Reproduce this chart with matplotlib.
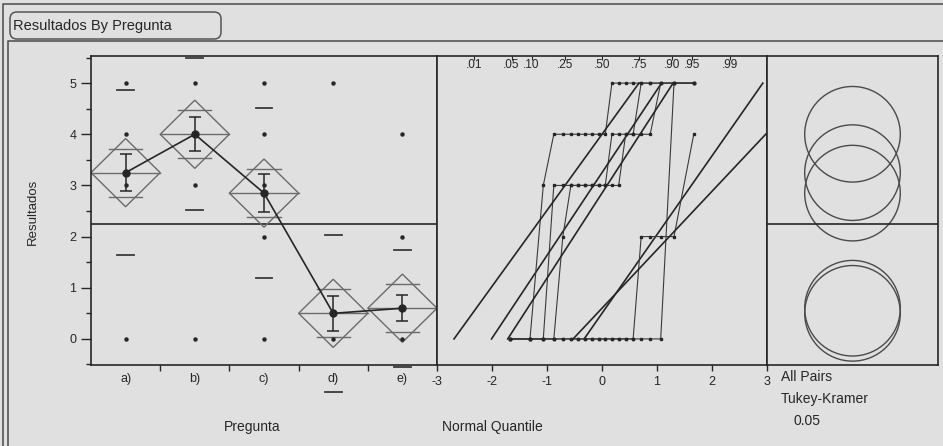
import math
import numpy as np
import matplotlib
matplotlib.use("Agg")
import matplotlib.pyplot as plt
from matplotlib.patches import Polygon, Circle, FancyBboxPatch
from matplotlib.lines import Line2D
from matplotlib.ticker import FixedLocator

plt.rcParams['font.family'] = ['Liberation Sans', 'DejaVu Sans']
plt.rcParams['axes.unicode_minus'] = False

'''Datos: respuestas (0-5) de 20 alumnos por pregunta, leidas del grafico'''
preguntas = ['a)', 'b)', 'c)', 'd)', 'e)']
niveles = [0, 1, 2, 3, 4, 5]
conteos = [[3, 0, 0, 8, 4, 5],
           [2, 0, 0, 1, 8, 9],
           [4, 0, 1, 8, 4, 3],
           [18, 0, 0, 0, 0, 2],
           [15, 0, 4, 0, 1, 0]]
prob_ticks = [0.01, 0.05, 0.10, 0.25, 0.50, 0.75, 0.90, 0.95, 0.99]
prob_labels = ['.01', '.05', '.10', '.25', '.50', '.75', '.90', '.95', '.99']
t_975 = 1.985      # t(0.975, df=95)
q_tukey = 3.936    # rango studentizado q(0.05; 5, 95)
alfa = "0.05"

W, H = 943, 446
BG = '#dfe0df'
DARK = '#262626'
MID = '#6b6b6b'


def probit(p):
    lo, hi = -10.0, 10.0
    for _ in range(80):
        m = 0.5*(lo + hi)
        if 0.5*(1 + math.erf(m/math.sqrt(2))) < p:
            lo = m
        else:
            hi = m
    return 0.5*(lo + hi)


def rect(x0, y0, x1, y1):
    return [x0/W, 1 - y1/H, (x1 - x0)/W, (y1 - y0)/H]


grupos = [np.repeat(niveles, c).astype(float) for c in conteos]
n = np.array([len(g) for g in grupos])
medias = np.array([g.mean() for g in grupos])
sds = np.array([g.std(ddof=1) for g in grupos])
se_grupo = sds/np.sqrt(n)
gran_media = np.concatenate(grupos).mean()
mse = sum(((g - g.mean())**2).sum() for g in grupos)/(n.sum() - len(grupos))
se_pool = np.sqrt(mse/n)
diamante = t_975*se_pool
radio = q_tukey/np.sqrt(2)*se_pool
ymin, ymax = -0.51, 5.53

fig = plt.figure(figsize=(W/100, H/100), dpi=100, facecolor=BG)

'''Marcos de la ventana'''
bg = fig.add_axes([0, 0, 1, 1])
bg.set_xlim(0, W)
bg.set_ylim(H, 0)
bg.set_axis_off()
bg.add_line(Line2D([2.5, 2.5, 943], [446, 4, 4], color='#555555', lw=1.2))
bg.add_line(Line2D([8, 8, 943], [446, 41, 41], color='#555555', lw=1.2))
bg.add_patch(FancyBboxPatch((10, 12), 211, 27, boxstyle="round,pad=0,rounding_size=7",
                            fc=BG, ec='#555555', lw=1.1))
bg.text(13, 26, "Resultados By Pregunta", fontsize=10.5, va='center', ha='left', color=DARK)

'''Panel izquierdo: diamantes de medias'''
ax = fig.add_axes(rect(91, 56, 437, 365), facecolor=BG)
x = np.arange(len(preguntas))
for i, g in enumerate(grupos):
    m, h = medias[i], diamante[i]
    ax.add_patch(Polygon([[i - 0.5, m], [i, m + h], [i + 0.5, m], [i, m - h]],
                         closed=True, fill=False, ec=MID, lw=1.0, zorder=2))
    ax.plot([i - 0.5, i + 0.5], [m, m], color=MID, lw=1.0, zorder=2)
    for s in (1, -1):
        ax.plot([i - 0.24, i + 0.24], [m + s*h/np.sqrt(2)]*2, color=MID, lw=1.0, zorder=2)
        ax.plot([i - 0.12, i + 0.12], [m + s*sds[i]]*2, color='#3a3a3a', lw=1.3,
                zorder=3, clip_on=False)
    ax.errorbar(i, m, yerr=se_grupo[i], color=DARK, lw=1.1, capsize=4, capthick=1.1, zorder=4)
    vals = np.unique(g)
    ax.plot(np.full(len(vals), i), vals, 'o', color=DARK, ms=2.2, zorder=3)
ax.plot(x, medias, '-o', color=DARK, lw=1.2, ms=5, zorder=5)
ax.axhline(gran_media, color=DARK, lw=1.2, zorder=1)
ax.set_xlim(-0.5, len(preguntas) - 0.5)
ax.set_ylim(ymin, ymax)
ax.set_xticks(x, preguntas)
ax.xaxis.set_minor_locator(FixedLocator(x[:-1] + 0.5))
ax.tick_params(axis='x', which='major', length=0, pad=5.5, labelsize=9, colors=DARK)
ax.tick_params(axis='x', which='minor', length=4, width=1, color=DARK)
ax.set_yticks(range(6))
ax.yaxis.set_minor_locator(FixedLocator(np.arange(-0.5, 5.6, 1.0)))
ax.tick_params(axis='y', which='major', length=7, width=1, pad=3.5, labelsize=9, colors=DARK)
ax.tick_params(axis='y', which='minor', length=3.5, width=1, color=DARK)
for sp in ax.spines.values():
    sp.set_color(DARK)
    sp.set_linewidth(1.2)
fig.text(33/W, 1 - 212/H, "Resultados", rotation=90, fontsize=9.5, ha='center', va='center', color=DARK)
fig.text(252/W, 1 - 427/H, "Pregunta", fontsize=10, ha='center', va='center', color=DARK)

'''Panel central: cuantiles normales'''
axq = fig.add_axes(rect(437, 56, 767, 365), facecolor=BG)
ylo, yhi = min(niveles), max(niveles)
for i, g in enumerate(grupos):
    gs = np.sort(g)
    z = np.array([probit((k + 1)/(len(gs) + 1)) for k in range(len(gs))])
    axq.plot(z, gs, '-', color='#3a3a3a', lw=0.8, zorder=2)
    axq.plot(z, gs, 's', color=DARK, ms=1.8, zorder=3)
    zf = (np.array([ylo, yhi]) - medias[i])/sds[i]
    axq.plot(zf, medias[i] + sds[i]*zf, color=DARK, lw=1.2, zorder=2)
axq.set_xlim(-3, 3)
axq.set_ylim(ymin, ymax)
axq.set_yticks([])
axq.set_xticks(range(-3, 4), [str(v) for v in range(-3, 4)])
axq.tick_params(axis='x', length=4, width=1, pad=4, labelsize=9, colors=DARK)
sec = axq.secondary_xaxis('top')
sec.set_xticks([probit(p) for p in prob_ticks], prob_labels)
sec.tick_params(direction='in', length=3, width=0.8, pad=-11, labelsize=8.5, colors=DARK)
sec.spines['top'].set_visible(False)
for sp in axq.spines.values():
    sp.set_color(DARK)
    sp.set_linewidth(1.2)
fig.text(442/W, 1 - 427/H, "Normal Quantile", fontsize=10, ha='left', va='center', color=DARK)

'''Panel derecho: circulos de comparacion'''
axc = fig.add_axes(rect(767, 56, 938, 365), facecolor=BG)
axc.set_ylim(ymin, ymax)
half = (171/309)*(ymax - ymin)/2
axc.set_xlim(-half, half)
for i in range(len(preguntas)):
    axc.add_patch(Circle((0, medias[i]), radio[i], fill=False, ec='#4a4a4a', lw=1.0))
axc.axhline(gran_media, color=DARK, lw=1.2)
axc.set_xticks([])
axc.set_yticks([])
for sp in axc.spines.values():
    sp.set_color(DARK)
    sp.set_linewidth(1.2)
fig.text(781/W, 1 - 377/H, "All Pairs", fontsize=10, ha='left', va='center', color=DARK)
fig.text(781/W, 1 - 399/H, "Tukey-Kramer", fontsize=10, ha='left', va='center', color=DARK)
fig.text(794/W, 1 - 421/H, alfa, fontsize=10, ha='left', va='center', color=DARK)

fig.savefig("out.png", dpi=100, facecolor=BG)
